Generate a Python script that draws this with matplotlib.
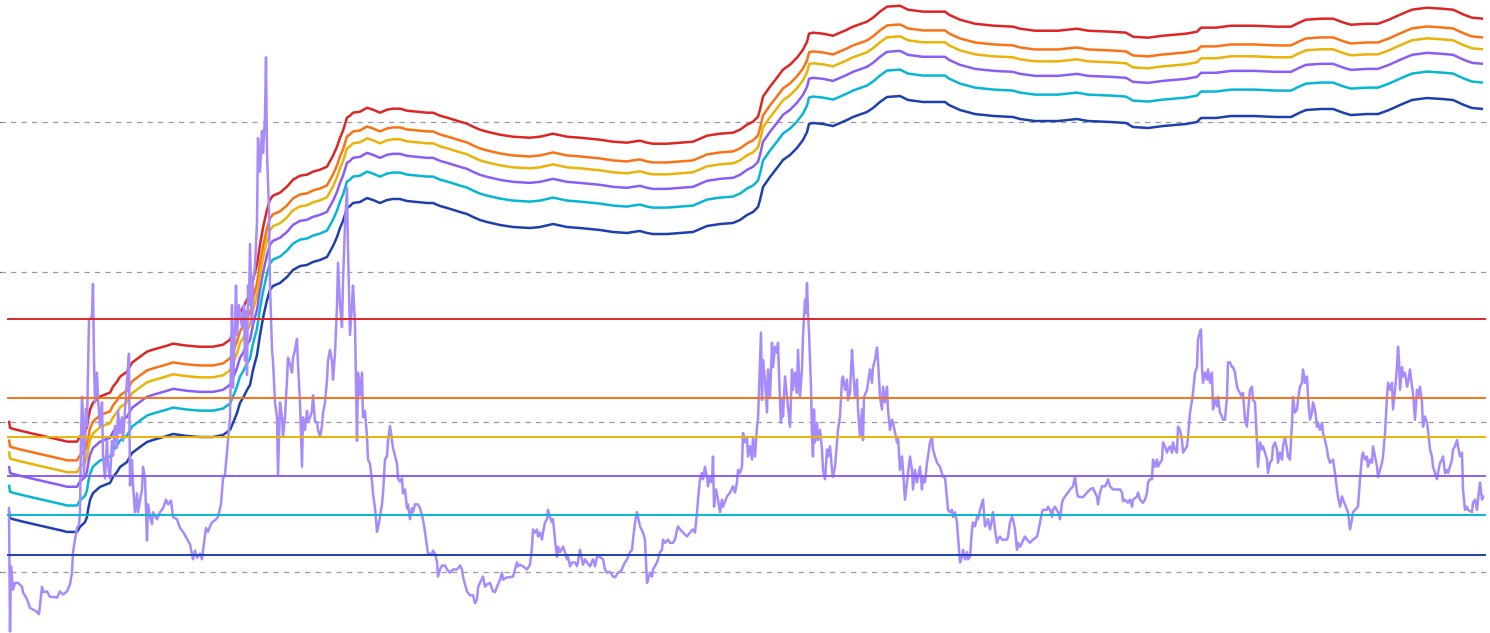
import numpy as np
import matplotlib
matplotlib.use("Agg")
import matplotlib.pyplot as plt
from matplotlib.ticker import FixedLocator, NullLocator

# ---------------- data ----------------
# band multipliers (same levels used as thresholds for the ratio oscillator)
band_mult = [4.0, 3.0, 2.5, 2.0, 1.5, 1.0]
band_colors = ["#dc2626", "#f97316", "#eab308", "#8b5cf6", "#06b6d4", "#1e40af"]

# base curve (lowest band), log scale
base_t = [9, 10, 12, 20, 33, 50, 63, 67, 77, 80,
          82, 85, 87, 88, 90, 93, 100, 107, 110, 113,
          117, 120, 127, 132, 140, 147, 153, 167, 173, 187,
          200, 213, 223, 230, 233, 237, 240, 243, 247, 250,
          253, 257, 260, 263, 267, 270, 273, 280, 287, 293,
          300, 307, 313, 320, 327, 333, 337, 340, 343, 347,
          350, 353, 360, 367, 373, 380, 387, 393, 400, 407,
          417, 427, 433, 440, 447, 460, 467, 473, 480, 487,
          500, 513, 530, 540, 553, 567, 580, 600, 613, 627,
          633, 640, 647, 653, 667, 680, 693, 700, 707, 720,
          733, 740, 747, 753, 758, 760, 763, 770, 777, 783,
          790, 797, 803, 807, 809, 813, 823, 833, 840, 847,
          853, 867, 873, 880, 887, 900, 908, 923, 945, 949,
          960, 975, 994, 1013, 1020, 1035, 1058, 1077, 1088, 1111,
          1126, 1133, 1148, 1163, 1186, 1197, 1201, 1216, 1231, 1254,
          1276, 1291, 1299, 1306, 1321, 1333, 1344, 1351, 1367, 1378,
          1389, 1400, 1412, 1427, 1442, 1453, 1464, 1472, 1483]
base_val = [25.5, 22.9, 22.6, 21.9, 20.9, 19.7, 18.8, 18.5, 18.5, 20.0,
            20.6, 21.5, 23.3, 25.9, 30.2, 33.6, 36.9, 38.6, 39.2, 43.0,
            46.4, 50.1, 54.1, 62.1, 68.1, 73.6, 75.9, 80.7, 83.2, 80.7,
            79.4, 79.4, 81.9, 88.5, 98.5, 114.8, 133.9, 144.5, 163.4, 176.5,
            222, 280, 380, 493, 650, 759, 807, 845, 926, 1031,
            1096, 1114, 1166, 1202, 1259, 1490, 1711, 1964, 2188, 2673,
            2754, 2884, 2929, 3112, 3020, 2884, 3020, 3067, 3067, 2974,
            2929, 2884, 2884, 2754, 2673, 2512, 2436, 2328, 2222, 2154,
            2057, 1995, 1964, 1995, 2089, 1995, 1964, 1905, 1848, 1820,
            1848, 1877, 1820, 1791, 1791, 1820, 1848, 1935, 2026, 2089,
            2122, 2222, 2399, 2512, 2712, 3020, 3687, 4300, 4937, 5582,
            6026, 6714, 7586, 8570, 9700, 9850, 9700, 9400, 9850, 10310,
            10800, 11660, 12400, 13600, 14680, 14900, 14020, 13600, 13600, 12980,
            12020, 11300, 10960, 10800, 10470, 10150, 10150, 10470, 10150, 10000,
            9850, 9260, 9120, 9400, 9700, 10000, 10640, 10640, 10960, 10960,
            10800, 10800, 11480, 12020, 12210, 12210, 11480, 11130, 11300, 11300,
            12020, 12980, 14020, 14450, 14230, 14020, 12980, 12400, 12210]

# ratio oscillator (linear secondary axis)
osc_t = [9, 10, 11, 13, 15, 18, 22, 23, 27, 30,
         33, 37, 39, 42, 43, 47, 50, 53, 57, 60,
         63, 67, 70, 72, 73, 75, 77, 79, 80, 81,
         82, 83, 84, 86, 87, 89, 92, 93, 94, 95,
         97, 98, 100, 102, 103, 105, 107, 108, 110, 112,
         113, 115, 117, 118, 120, 122, 123, 125, 127, 129,
         130, 132, 133, 135, 137, 138, 140, 142, 143, 145,
         147, 148, 150, 152, 153, 157, 160, 163, 166, 168,
         171, 173, 177, 180, 183, 187, 190, 193, 195, 197,
         200, 202, 204, 206, 208, 211, 213, 216, 218, 221,
         223, 225, 227, 228, 230, 232, 233, 235, 236, 237,
         239, 242, 244, 245, 246, 247, 248, 249, 250, 252,
         253, 255, 257, 258, 260, 262, 263, 265, 266, 267,
         269, 270, 272, 273, 275, 277, 278, 280, 282, 283,
         285, 287, 288, 290, 292, 293, 295, 297, 298, 300,
         302, 303, 305, 307, 308, 310, 312, 313, 315, 317,
         318, 320, 322, 323, 325, 327, 328, 330, 332, 333,
         335, 337, 338, 340, 342, 343, 345, 347, 348, 350,
         352, 353, 355, 357, 358, 360, 362, 363, 365, 367,
         368, 370, 372, 373, 375, 377, 378, 380, 382, 383,
         385, 387, 388, 390, 392, 393, 395, 397, 398, 400,
         402, 403, 405, 407, 408, 410, 412, 413, 415, 418,
         420, 423, 425, 427, 428, 432, 433, 435, 437, 438,
         440, 442, 445, 447, 450, 453, 457, 460, 462, 463,
         465, 467, 470, 473, 475, 477, 478, 480, 483, 485,
         487, 490, 493, 495, 497, 500, 502, 503, 507, 510,
         513, 515, 517, 518, 520, 523, 527, 530, 532, 533,
         535, 537, 538, 540, 542, 543, 545, 547, 548, 550,
         552, 553, 555, 557, 558, 560, 563, 565, 567, 568,
         570, 572, 575, 577, 578, 580, 582, 583, 585, 587,
         590, 593, 595, 597, 600, 603, 605, 607, 610, 613,
         615, 618, 620, 622, 623, 625, 627, 628, 630, 632,
         633, 635, 637, 638, 640, 643, 645, 647, 648, 650,
         652, 653, 657, 658, 660, 662, 663, 665, 668, 670,
         673, 675, 677, 678, 680, 683, 687, 690, 693, 695,
         697, 698, 700, 702, 703, 705, 707, 708, 710, 712,
         713, 714, 716, 718, 720, 722, 723, 727, 730, 733,
         735, 737, 738, 740, 742, 743, 745, 747, 748, 750,
         752, 753, 755, 757, 758, 760, 761, 762, 763, 765,
         767, 768, 770, 772, 773, 775, 777, 778, 780, 781,
         782, 783, 785, 787, 790, 792, 793, 795, 797, 798,
         800, 802, 803, 805, 806, 807, 808, 809, 811, 812,
         813, 814, 815, 817, 818, 820, 822, 823, 825, 827,
         828, 830, 832, 833, 835, 837, 838, 840, 842, 843,
         845, 847, 848, 850, 852, 853, 855, 857, 858, 860,
         862, 863, 864, 867, 868, 870, 872, 873, 875, 877,
         878, 880, 882, 883, 885, 887, 888, 890, 892, 893,
         897, 898, 900, 902, 903, 905, 907, 908, 910, 912,
         913, 915, 917, 918, 920, 922, 923, 925, 927, 928,
         930, 932, 933, 935, 937, 940, 943, 945, 947, 948,
         950, 952, 953, 955, 957, 958, 960, 962, 963, 965,
         967, 968, 970, 972, 973, 975, 977, 978, 980, 982,
         983, 985, 987, 988, 990, 992, 993, 995, 997, 998,
         1000, 1002, 1007, 1008, 1010, 1012, 1013, 1015, 1017, 1018,
         1020, 1022, 1025, 1027, 1030, 1033, 1037, 1038, 1040, 1042,
         1043, 1047, 1048, 1050, 1052, 1053, 1055, 1058, 1060, 1062,
         1063, 1065, 1068, 1070, 1073, 1075, 1077, 1078, 1083, 1087,
         1090, 1093, 1095, 1097, 1098, 1100, 1102, 1105, 1107, 1108,
         1110, 1113, 1120, 1122, 1123, 1125, 1128, 1130, 1132, 1133,
         1137, 1138, 1140, 1143, 1145, 1147, 1148, 1150, 1152, 1153,
         1155, 1157, 1158, 1160, 1162, 1163, 1165, 1167, 1168, 1170,
         1172, 1173, 1175, 1177, 1178, 1180, 1182, 1183, 1185, 1187,
         1188, 1190, 1192, 1193, 1195, 1197, 1198, 1200, 1201, 1202,
         1203, 1205, 1207, 1208, 1210, 1212, 1213, 1215, 1217, 1218,
         1220, 1222, 1223, 1225, 1227, 1228, 1230, 1232, 1233, 1235,
         1237, 1238, 1240, 1242, 1243, 1245, 1247, 1248, 1250, 1252,
         1253, 1255, 1257, 1258, 1260, 1262, 1263, 1265, 1267, 1268,
         1270, 1272, 1273, 1275, 1277, 1278, 1280, 1282, 1283, 1285,
         1287, 1288, 1290, 1292, 1293, 1295, 1297, 1298, 1300, 1302,
         1303, 1305, 1307, 1308, 1310, 1312, 1313, 1315, 1317, 1318,
         1320, 1322, 1323, 1325, 1327, 1328, 1330, 1333, 1335, 1337,
         1338, 1340, 1342, 1343, 1347, 1348, 1350, 1352, 1353, 1355,
         1358, 1360, 1362, 1363, 1365, 1367, 1368, 1370, 1372, 1373,
         1375, 1377, 1378, 1380, 1382, 1383, 1385, 1387, 1388, 1390,
         1392, 1393, 1395, 1397, 1398, 1399, 1400, 1402, 1403, 1405,
         1407, 1408, 1410, 1412, 1413, 1415, 1417, 1418, 1420, 1422,
         1423, 1425, 1427, 1428, 1430, 1432, 1433, 1435, 1437, 1438,
         1440, 1442, 1443, 1445, 1447, 1448, 1450, 1452, 1453, 1455,
         1457, 1458, 1460, 1462, 1463, 1465, 1467, 1468, 1472, 1473,
         1475, 1477, 1478, 1480, 1482, 1483]
osc_v = [1.59, 0.02, 0.85, 0.55, 0.64, 0.64, 0.59, 0.52, 0.43, 0.32,
         0.30, 0.27, 0.24, 0.59, 0.52, 0.53, 0.46, 0.46, 0.45, 0.53,
         0.49, 0.53, 0.62, 0.77, 1.03, 1.19, 1.34, 1.38, 1.54, 2.50,
         3.01, 2.75, 2.02, 2.86, 2.64, 3.99, 4.04, 4.45, 3.47, 2.94,
         3.32, 2.99, 2.64, 2.94, 2.26, 1.97, 2.45, 2.16, 1.97, 2.45,
         2.26, 2.64, 2.36, 2.83, 2.55, 2.75, 2.45, 2.83, 3.23, 3.56,
         1.88, 2.21, 1.88, 1.54, 1.78, 1.54, 1.69, 1.83, 2.12, 1.97,
         1.18, 1.64, 1.48, 1.39, 1.54, 1.45, 1.54, 1.59, 1.70, 1.64,
         1.69, 1.48, 1.45, 1.34, 1.29, 1.20, 1.13, 0.94, 1.05, 0.96,
         1.01, 0.94, 1.15, 1.34, 1.29, 1.39, 1.42, 1.45, 1.48, 1.64,
         1.97, 2.02, 2.31, 2.45, 2.75, 4.18, 3.13, 3.90, 4.43, 3.80,
         4.18, 3.90, 4.18, 3.47, 4.10, 3.29, 4.43, 4.18, 4.96, 3.94,
         4.48, 4.67, 5.24, 6.31, 5.88, 6.40, 6.12, 6.59, 7.34, 6.12,
         5.39, 4.43, 3.61, 3.47, 2.94, 2.75, 2.02, 2.94, 2.75, 2.50,
         2.75, 3.23, 3.51, 3.42, 3.32, 3.51, 3.61, 3.75, 3.42, 2.94,
         2.12, 2.75, 2.59, 2.83, 2.69, 2.75, 2.83, 3.03, 2.69, 2.69,
         2.59, 2.50, 2.64, 2.80, 2.94, 3.23, 3.47, 3.61, 3.47, 3.23,
         3.56, 4.18, 4.72, 4.18, 3.90, 4.48, 5.20, 5.68, 4.91, 3.80,
         4.18, 4.43, 3.94, 2.45, 3.32, 3.03, 3.32, 2.75, 2.83, 2.50,
         2.21, 2.16, 1.93, 1.78, 1.59, 1.29, 1.34, 1.48, 1.64, 1.78,
         2.21, 2.26, 2.45, 2.64, 2.45, 2.36, 2.26, 2.16, 1.97, 1.93,
         1.97, 1.78, 1.83, 1.59, 1.64, 1.45, 1.59, 1.54, 1.64, 1.64,
         1.59, 1.45, 1.29, 1.10, 1.01, 1.01, 1.05, 1.01, 0.91, 0.72,
         0.81, 0.86, 0.86, 0.81, 0.77, 0.81, 0.81, 0.86, 0.81, 0.72,
         0.62, 0.53, 0.48, 0.48, 0.38, 0.43, 0.58, 0.64, 0.72, 0.59,
         0.62, 0.64, 0.53, 0.52, 0.59, 0.68, 0.77, 0.68, 0.71, 0.71,
         0.72, 0.81, 0.90, 0.85, 0.87, 0.85, 0.81, 0.87, 1.10, 1.32,
         1.28, 1.32, 1.23, 1.28, 1.19, 1.28, 1.41, 1.45, 1.57, 1.48,
         1.41, 1.45, 1.19, 0.97, 1.10, 1.03, 1.10, 1.03, 0.94, 0.97,
         0.85, 0.90, 0.90, 0.85, 0.91, 1.06, 0.94, 0.87, 0.94, 0.90,
         0.85, 0.94, 0.85, 0.97, 0.97, 0.94, 0.81, 0.77, 0.78, 0.72,
         0.71, 0.77, 0.78, 0.81, 0.85, 0.90, 0.94, 0.97, 1.03, 1.06,
         1.19, 1.41, 1.54, 1.48, 1.36, 1.28, 1.19, 0.64, 0.68, 0.77,
         0.72, 0.81, 0.90, 0.94, 1.03, 1.06, 1.19, 1.15, 1.19, 1.15,
         1.15, 1.19, 1.32, 1.36, 1.32, 1.28, 1.23, 1.28, 1.32, 1.28,
         1.54, 1.70, 1.96, 2.04, 1.96, 2.12, 1.99, 1.87, 1.99, 1.92,
         2.25, 1.61, 1.83, 1.70, 1.54, 1.70, 1.61, 1.74, 1.79, 1.87,
         1.79, 1.92, 2.08, 2.04, 2.12, 2.55, 2.43, 2.50, 2.25, 2.38,
         2.21, 2.50, 2.25, 2.63, 2.72, 3.48, 3.83, 2.97, 3.48, 3.23,
         2.81, 3.36, 3.01, 3.70, 3.39, 3.65, 3.57, 3.70, 2.94, 2.68,
         2.97, 2.76, 3.27, 3.01, 2.63, 3.36, 3.10, 3.32, 3.06, 3.61,
         3.01, 3.36, 3.78, 4.25, 4.08, 4.46, 4.08, 3.83, 3.14, 2.50,
         2.25, 2.85, 2.43, 2.68, 2.46, 2.59, 2.34, 2.08, 1.96, 2.34,
         2.25, 2.38, 2.08, 1.99, 2.12, 2.43, 2.59, 2.76, 3.23, 3.27,
         3.10, 3.23, 2.97, 3.06, 3.61, 3.39, 3.01, 3.23, 2.85, 2.50,
         2.85, 2.46, 3.01, 3.10, 3.19, 3.36, 3.19, 3.39, 3.48, 3.64,
         3.48, 3.01, 2.85, 3.14, 2.94, 3.14, 2.85, 2.59, 2.72, 2.68,
         2.43, 2.50, 2.08, 2.25, 2.08, 1.70, 1.92, 2.04, 2.25, 2.08,
         1.83, 2.08, 1.92, 1.99, 2.12, 1.83, 1.99, 1.92, 2.17, 2.25,
         2.43, 2.50, 2.34, 2.25, 2.17, 2.12, 1.99, 1.99, 1.70, 1.57,
         1.54, 1.57, 1.48, 1.54, 1.41, 1.23, 0.90, 0.97, 1.06, 0.94,
         1.03, 0.94, 0.97, 1.32, 1.41, 1.36, 1.48, 1.45, 1.57, 1.66,
         1.70, 1.36, 1.41, 1.45, 1.32, 1.45, 1.54, 1.32, 1.15, 1.19,
         1.23, 1.19, 1.19, 1.23, 1.41, 1.48, 1.45, 1.32, 1.06, 1.15,
         1.10, 1.15, 1.23, 1.19, 1.15, 1.19, 1.23, 1.28, 1.41, 1.54,
         1.57, 1.57, 1.61, 1.57, 1.48, 1.57, 1.61, 1.54, 1.45, 1.66,
         1.70, 1.74, 1.79, 1.83, 1.87, 1.99, 1.79, 1.74, 1.73, 1.79,
         1.83, 1.85, 1.79, 1.74, 1.64, 1.79, 1.87, 1.87, 1.92, 1.96,
         1.87, 1.83, 1.83, 1.79, 1.68, 1.70, 1.66, 1.70, 1.61, 1.70,
         1.74, 1.79, 1.70, 1.66, 1.70, 1.79, 1.92, 1.96, 1.96, 2.21,
         2.12, 2.21, 2.12, 2.17, 2.21, 2.43, 2.38, 2.30, 2.34, 2.38,
         2.30, 2.43, 2.34, 2.30, 2.63, 2.59, 2.46, 2.30, 2.34, 2.38,
         2.50, 2.81, 2.97, 3.06, 3.32, 3.39, 3.74, 3.84, 3.87, 3.39,
         3.19, 3.32, 3.23, 3.36, 3.19, 3.32, 2.85, 2.97, 2.89, 3.01,
         2.81, 2.76, 2.72, 2.72, 3.01, 3.45, 3.45, 3.39, 3.39, 3.32,
         3.14, 3.10, 3.06, 3.01, 3.06, 2.72, 2.63, 2.81, 3.10, 3.14,
         2.97, 2.94, 2.43, 2.12, 2.43, 2.34, 2.38, 2.30, 2.21, 2.04,
         2.17, 2.21, 2.38, 2.43, 2.34, 2.17, 2.30, 2.21, 2.38, 2.50,
         2.34, 2.25, 2.21, 2.68, 3.01, 2.81, 2.85, 2.97, 3.14, 3.19,
         3.36, 3.19, 3.27, 3.01, 2.72, 2.81, 2.94, 2.85, 2.63, 2.68,
         2.59, 2.68, 2.55, 2.46, 2.34, 2.25, 2.17, 2.21, 2.04, 1.83,
         1.74, 1.61, 1.74, 1.70, 1.57, 1.54, 1.32, 1.45, 1.54, 1.57,
         1.61, 1.96, 2.25, 2.30, 2.21, 2.25, 2.12, 2.21, 2.17, 2.38,
         2.25, 2.12, 1.99, 2.08, 2.17, 2.25, 2.55, 3.01, 3.19, 3.10,
         3.19, 2.85, 3.10, 3.39, 3.65, 3.48, 3.10, 3.39, 3.27, 3.32,
         3.14, 3.19, 3.36, 3.14, 3.06, 2.72, 3.10, 3.01, 3.14, 2.94,
         2.63, 2.76, 2.68, 2.59, 2.34, 2.25, 2.12, 2.04, 1.96, 2.04,
         2.17, 2.21, 2.25, 2.04, 2.08, 2.04, 2.12, 2.21, 2.34, 2.38,
         2.46, 2.38, 2.25, 2.30, 1.83, 1.57, 1.61, 1.57, 1.54, 1.66,
         1.70, 1.57, 1.70, 1.92, 1.70, 1.74]

grid_levels = [10, 100, 1000, 10000]

# ---------------- figure ----------------
W, H = 1490, 633
fig = plt.figure(figsize=(W / 100, H / 100), dpi=100)
ax = fig.add_axes([0, 0, 1, 1])
ax.set_yscale("log")
ax.set_xlim(0, 1490)
ax.set_ylim(10 ** (89 / 150), 10 ** (722 / 150))
ax.yaxis.set_major_locator(FixedLocator(grid_levels))
ax.yaxis.set_minor_locator(NullLocator())
ax.grid(axis="y", which="major", color="#9a9a9a", linewidth=0.9,
        linestyle=(0, (4.2, 4.2)))
ax.grid(axis="x", visible=False)
ax.tick_params(left=False, labelleft=False, bottom=False, labelbottom=False,
               right=False, labelright=False)
for s in ax.spines.values():
    s.set_visible(False)

bt = np.array(base_t, dtype=float)
bv = np.array(base_val, dtype=float)
for m, c in zip(band_mult, band_colors):
    ax.plot(bt, bv * m, color=c, linewidth=1.8, solid_capstyle="butt")

ax2 = ax.twinx()
ax2.set_ylim(0, 633.5 / 78.5)
ax2.set_xlim(0, 1490)
ax2.tick_params(left=False, labelleft=False, bottom=False, labelbottom=False,
                right=False, labelright=False)
for s in ax2.spines.values():
    s.set_visible(False)

ax2.plot(osc_t, osc_v, color="#a78bfa", linewidth=1.8, zorder=2)
t0, t1 = min(osc_t) - 1.5, max(osc_t) + 2
for m, c in zip(band_mult, band_colors):
    ax2.plot([t0, t1], [m, m], color=c, linewidth=1.4, zorder=3)

fig.savefig("out.png", dpi=100, facecolor="white")
